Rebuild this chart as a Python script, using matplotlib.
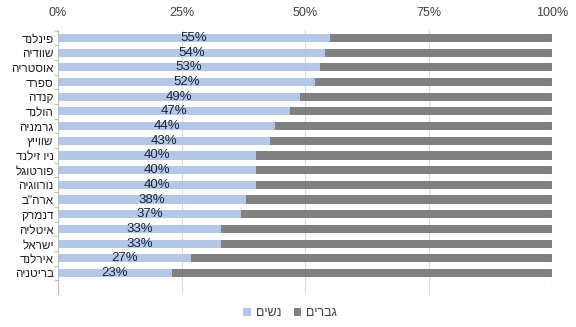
import matplotlib
matplotlib.use("Agg")
import matplotlib.pyplot as plt
import numpy as np

plt.rcParams['font.family'] = ['Liberation Sans', 'DejaVu Sans']

countries = ["פינלנד", "שוודיה", "אוסטריה", "ספרד", "קנדה", "הולנד", "גרמניה",
             "שווייץ", "ניו זילנד", "פורטוגל", "נורווגיה", "ארה\"ב", "דנמרק",
             "איטליה", "ישראל", "אירלנד", "בריטניה"]
women = [55, 54, 53, 52, 49, 47, 44, 43, 40, 40, 40, 38, 37, 33, 33, 27, 23]
men = [100 - w for w in women]
legend_labels = ["נשים", "גברים"]
xticks = [0, 25, 50, 75, 100]


def vis(s):
    # visual order for right-to-left text
    return s[::-1]


fig = plt.figure(figsize=(5.76, 3.27), dpi=100)
ax = fig.add_axes([58 / 576, 1 - 294 / 327, 494 / 576, 264 / 327])

y = np.arange(len(countries))
h = 0.55
blue = "#B4C7E7"
gray = "#808080"
bw = ax.barh(y, women, height=h, color=blue, zorder=2, label=vis(legend_labels[0]))
bm = ax.barh(y, men, left=women, height=h, color=gray, zorder=2, label=vis(legend_labels[1]))

for yi, w in zip(y, women):
    ax.text(w / 2, yi, f"{w}%", ha="center", va="center", fontsize=9.5,
            color="#1A2535", zorder=3)

ax.set_xlim(0, 100)
ax.set_ylim(len(countries) - 1 + 1.43, -0.54)
ax.set_xticks(xticks)
ax.set_xticklabels([f"{t}%" for t in xticks])
ax.xaxis.tick_top()
ax.tick_params(axis="x", length=0, labelsize=9, colors="#404040", pad=8)
ax.grid(axis="x", color="#D9D9D9", linewidth=0.8, zorder=0)

ax.set_yticks(y)
ax.set_yticklabels([vis(c) for c in countries])
ax.tick_params(axis="y", which="major", length=0, labelsize=8.5, colors="#202020", pad=3)
ax.set_yticks(np.arange(-0.5, len(countries) + 0.5, 1.0), minor=True)
ax.tick_params(axis="y", which="minor", length=3, color="#BFBFBF", width=0.8)

for s in ["top", "right", "bottom"]:
    ax.spines[s].set_visible(False)
ax.spines["left"].set_color("#BFBFBF")
ax.spines["left"].set_linewidth(0.8)

fig.legend(handles=[bw, bm], loc="center", bbox_to_anchor=(290 / 576, 1 - 313 / 327),
           ncol=2, frameon=False, fontsize=9, handlelength=0.6, handleheight=0.6,
           handletextpad=0.4, columnspacing=1.0, labelcolor="#404040")

fig.savefig("out.png", dpi=100)
